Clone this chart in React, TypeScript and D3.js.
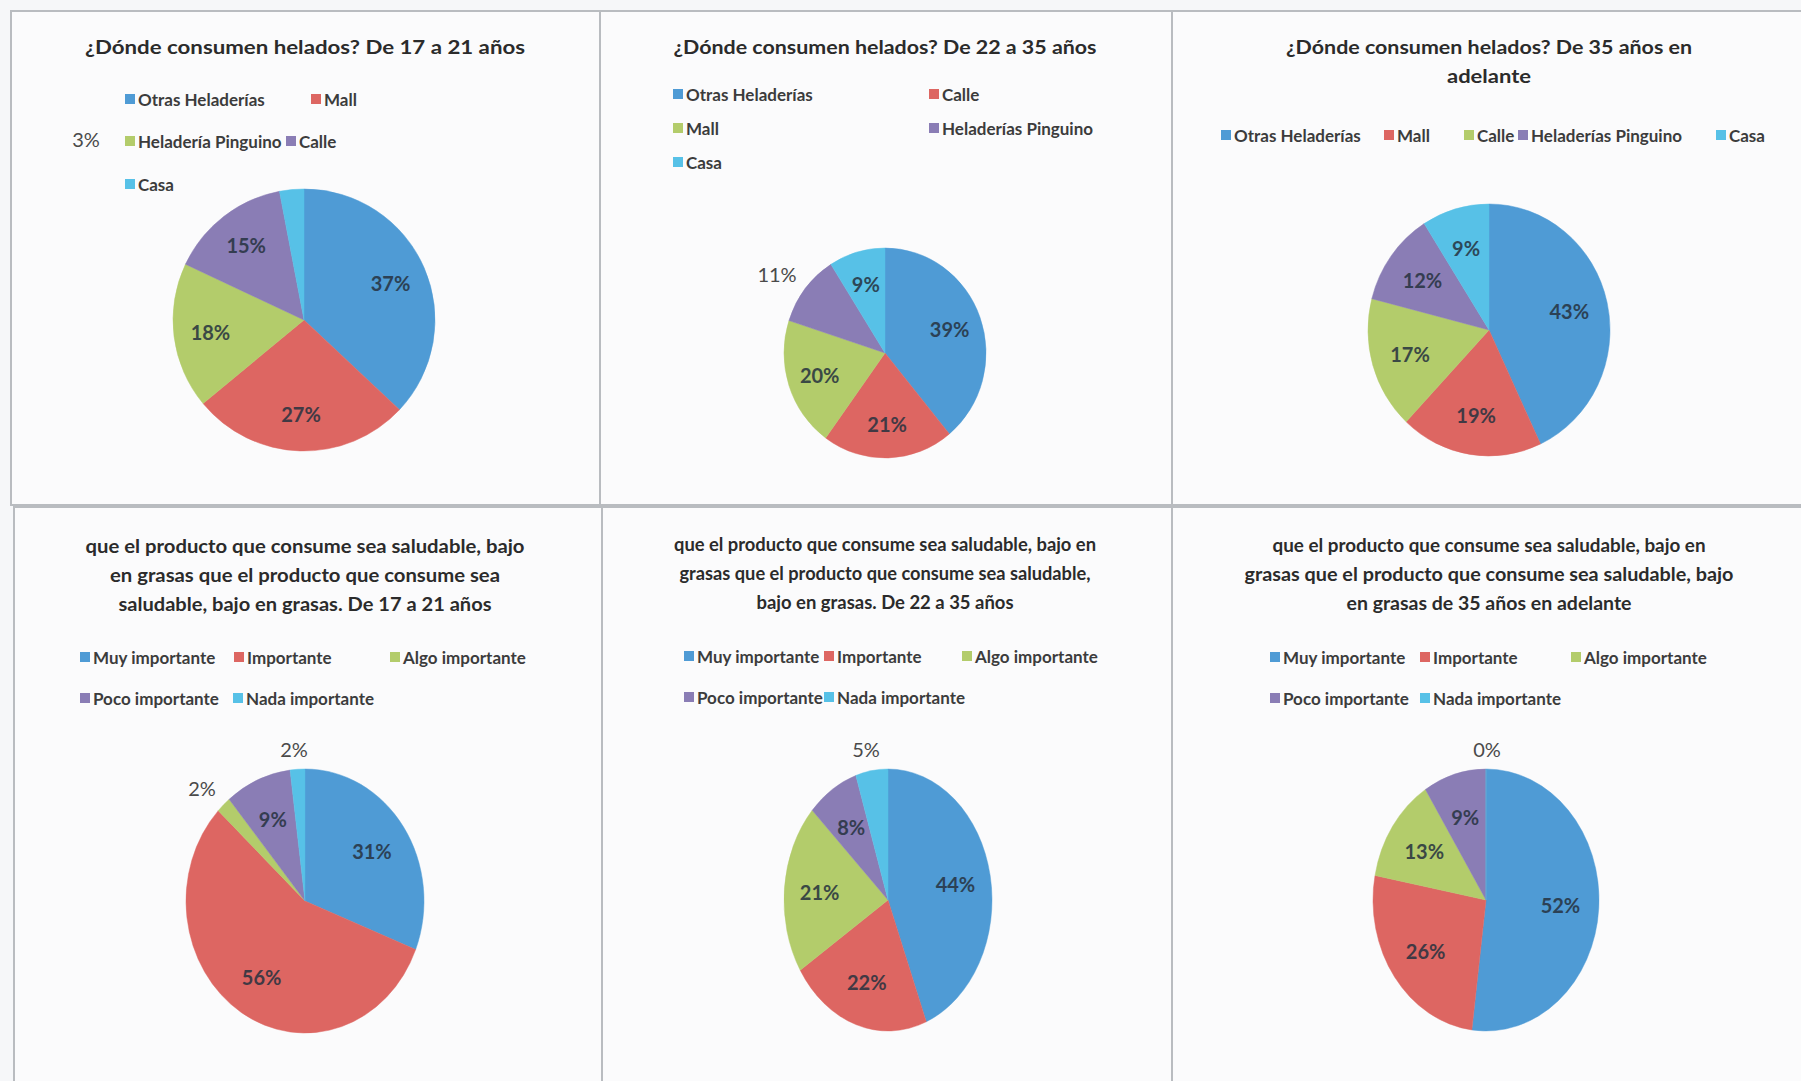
import React from "react";
import * as d3 from "d3";

// ---------- DATA ----------
const placeCategories17 = ["Otras Heladerías", "Mall", "Heladería Pinguino", "Calle", "Casa"];
const placeValues17 = [37, 27, 18, 15, 3];

const placeCategories22 = ["Otras Heladerías", "Calle", "Mall", "Heladerías Pinguino", "Casa"];
const placeValues22 = [39, 21, 20, 11, 9];

const placeCategories35 = ["Otras Heladerías", "Mall", "Calle", "Heladerías Pinguino", "Casa"];
const placeValues35 = [43, 19, 17, 12, 9];

const importanceCategories = ["Muy importante", "Importante", "Algo importante", "Poco importante", "Nada importante"];
const importanceValues17 = [31, 56, 2, 9, 2];
const importanceValues22 = [44, 22, 21, 8, 5];
const importanceValues35 = [52, 26, 13, 9, 0];

const title17 = ["¿Dónde consumen helados? De 17 a 21 años"];
const title22 = ["¿Dónde consumen helados? De 22 a 35 años"];
const title35 = ["¿Dónde consumen helados? De 35 años en", "adelante"];
const titleImp17 = [
  "que el producto que consume sea saludable, bajo",
  "en grasas que el producto que consume sea",
  "saludable, bajo en grasas. De 17 a 21 años",
];
const titleImp22 = [
  "que el producto que consume sea saludable, bajo en",
  "grasas que el producto que consume sea saludable,",
  "bajo en grasas.  De  22 a 35 años",
];
const titleImp35 = [
  "que el producto que consume sea saludable, bajo en",
  "grasas que el producto que consume sea saludable, bajo",
  "en grasas de 35 años en adelante",
];

const sliceColors = ["#4f9bd5", "#dd6662", "#b3cc6b", "#8a7db5", "#57c1e7"];

// ---------- LAYOUT ----------
type Panel = {
  categories: string[];
  values: number[];
  title: string[];
  frame: [number, number, number, number];
  titleX: number;
  titleY: number[];
  titleW: number[];
  legend: [number, number][];
  cx: number;
  cy: number;
  rx: number;
  ry: number;
  labelFrac: number;
  outside: Record<number, [number, number]>;
};

const panels: Panel[] = [
  {
    categories: placeCategories17, values: placeValues17, title: title17,
    frame: [11, 11, 600, 505], titleX: 305, titleY: [46], titleW: [440],
    legend: [[130, 99], [316, 99], [130, 141], [291, 141], [130, 184]],
    cx: 304, cy: 320, rx: 131, ry: 131, labelFrac: 0.72,
    outside: { 4: [-218, -181] },
  },
  {
    categories: placeCategories22, values: placeValues22, title: title22,
    frame: [600, 11, 1172, 505], titleX: 885, titleY: [46], titleW: [423],
    legend: [[678, 94], [934, 94], [678, 128], [934, 128], [678, 162]],
    cx: 885, cy: 353, rx: 101, ry: 105, labelFrac: 0.68,
    outside: { 3: [-108, -79] },
  },
  {
    categories: placeCategories35, values: placeValues35, title: title35,
    frame: [1172, 11, 1812, 505], titleX: 1489, titleY: [46, 75], titleW: [406, 84],
    legend: [[1226, 135], [1389, 135], [1469, 135], [1523, 135], [1721, 135]],
    cx: 1489, cy: 330, rx: 121, ry: 126, labelFrac: 0.68,
    outside: {},
  },
  {
    categories: importanceCategories, values: importanceValues17, title: titleImp17,
    frame: [14, 507, 602, 1095], titleX: 305, titleY: [545, 574, 603], titleW: [439, 390, 373],
    legend: [[85, 657], [239, 657], [395, 657], [85, 698], [238, 698]],
    cx: 305, cy: 901, rx: 119, ry: 132, labelFrac: 0.68,
    outside: { 2: [-103, -113], 4: [-11, -152] },
  },
  {
    categories: importanceCategories, values: importanceValues22, title: titleImp22,
    frame: [602, 507, 1172, 1095], titleX: 885, titleY: [543, 572, 601], titleW: [422, 411, 257],
    legend: [[689, 656], [829, 656], [967, 656], [689, 697], [829, 697]],
    cx: 888, cy: 900, rx: 104, ry: 131, labelFrac: 0.66,
    outside: { 4: [-22, -151] },
  },
  {
    categories: importanceCategories, values: importanceValues35, title: titleImp35,
    frame: [1172, 507, 1812, 1095], titleX: 1489, titleY: [544, 573, 602], titleW: [433, 489, 285],
    legend: [[1275, 657], [1425, 657], [1576, 657], [1275, 698], [1425, 698]],
    cx: 1486, cy: 900, rx: 113, ry: 131, labelFrac: 0.66,
    outside: { 4: [1, -151] },
  },
];

const FONT = "Lato, 'Open Sans', 'DejaVu Sans', sans-serif";

function PiePanel({ p }: { p: Panel }) {
  const pie = d3.pie<number>().sort(null).value((d) => d);
  const arcs = pie(p.values);
  const arc = d3.arc<d3.PieArcDatum<number>>().innerRadius(0).outerRadius(p.ry);
  const sx = p.rx / p.ry;
  const [x0, y0, x1, y1] = p.frame;
  return (
    <g>
      <rect x={x0} y={y0} width={x1 - x0} height={y1 - y0} fill="#fbfbfc" stroke="#b9bcc0" strokeWidth={2} />
      {p.title.map((t, i) => (
        <text key={i} x={p.titleX} y={p.titleY[i]} textAnchor="middle" dominantBaseline="central"
          fontFamily={FONT} fontWeight="bold" fontSize={19} fill="#2b2b2b"
          textLength={p.titleW[i]} lengthAdjust="spacingAndGlyphs">{t}</text>
      ))}
      {p.categories.map((c, i) => (
        <g key={c + i}>
          <rect x={p.legend[i][0] - 5} y={p.legend[i][1] - 5} width={10} height={10} fill={sliceColors[i]} />
          <text x={p.legend[i][0] + 8} y={p.legend[i][1]} dominantBaseline="central"
            fontFamily={FONT} fontWeight="bold" fontSize={17} fill="#3c3c3c">{c}</text>
        </g>
      ))}
      <g transform={`translate(${p.cx},${p.cy}) scale(${sx},1)`}>
        {arcs.map((a, i) => (
          <path key={i} d={arc(a) || ""} fill={sliceColors[i]} stroke={sliceColors[i]} strokeWidth={0.5} />
        ))}
      </g>
      {arcs.map((a, i) => {
        const out = p.outside[i];
        if (out) {
          return (
            <text key={"l" + i} x={p.cx + out[0]} y={p.cy + out[1]} textAnchor="middle" dominantBaseline="central"
              fontFamily={FONT} fontSize={20} fill="#4a4a4a">{`${p.values[i]}%`}</text>
          );
        }
        const mid = (a.startAngle + a.endAngle) / 2;
        const x = p.cx + Math.sin(mid) * p.rx * p.labelFrac;
        const y = p.cy - Math.cos(mid) * p.ry * p.labelFrac;
        return (
          <text key={"l" + i} x={x} y={y} textAnchor="middle" dominantBaseline="central"
            fontFamily={FONT} fontWeight="bold" fontSize={20} fill="#26323f" opacity={0.85}>{`${p.values[i]}%`}</text>
        );
      })}
    </g>
  );
}

export default function App() {
  return (
    <svg width={1801} height={1081} style={{ position: "absolute", left: 0, top: 0, background: "#f6f7f9" }}>
      <rect x={0} y={0} width={1801} height={1081} fill="#f6f7f9" />
      {panels.map((p, i) => (
        <PiePanel key={i} p={p} />
      ))}
    </svg>
  );
}
